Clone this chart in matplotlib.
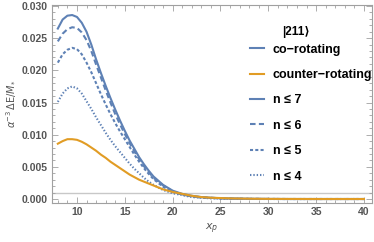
import matplotlib
matplotlib.use("Agg")
import matplotlib.pyplot as plt
from matplotlib.ticker import MultipleLocator, FormatStrFormatter
from matplotlib.lines import Line2D

plt.rcParams['font.family'] = ['Liberation Sans', 'DejaVu Sans']
plt.rcParams['lines.scale_dashes'] = False

x_p = [8, 8.5, 9, 9.5, 10, 10.5, 11, 11.5, 12, 12.5, 13, 13.5, 14, 14.5, 15, 15.5,
       16, 16.5, 17, 17.5, 18, 19, 20, 21, 22, 23, 24, 25, 26, 28, 30, 32, 35, 38, 40]

co_rot = [0.0265, 0.0279, 0.0285, 0.0286, 0.0283, 0.0274, 0.0260, 0.0240, 0.0217, 0.0196,
          0.0176, 0.0157, 0.0139, 0.0122, 0.0106, 0.0091, 0.0078, 0.0065, 0.0054, 0.0044,
          0.0035, 0.0022, 0.0013, 0.0008, 0.0005, 0.0003, 0.0002, 0.00012, 0.00008, 0.00003,
          0.00001, 0.0, 0.0, 0.0, 0.0]

n6 = [0.0245, 0.0257, 0.0264, 0.0267, 0.0266, 0.0259, 0.0247, 0.0230, 0.0209, 0.0189,
      0.0169, 0.0150, 0.0132, 0.0116, 0.0101, 0.0087, 0.0074, 0.0062, 0.0051, 0.0042,
      0.0033, 0.0021, 0.0012, 0.0007, 0.0004, 0.0003, 0.0002, 0.0001, 0.00007, 0.00003,
      0.00001, 0.0, 0.0, 0.0, 0.0]

n5 = [0.0212, 0.0225, 0.0232, 0.0235, 0.0233, 0.0225, 0.0212, 0.0197, 0.0180, 0.0163,
      0.0147, 0.0132, 0.0118, 0.0105, 0.0093, 0.0081, 0.0069, 0.0058, 0.0048, 0.0039,
      0.0031, 0.0019, 0.0011, 0.0007, 0.0004, 0.0002, 0.00015, 0.0001, 0.00006, 0.00002,
      0.00001, 0.0, 0.0, 0.0, 0.0]

n4 = [0.0151, 0.0164, 0.0172, 0.0175, 0.0172, 0.0164, 0.0152, 0.0140, 0.0127, 0.0115,
      0.0103, 0.0092, 0.0082, 0.0073, 0.0064, 0.0055, 0.0047, 0.0040, 0.0033, 0.0027,
      0.0022, 0.0014, 0.0009, 0.0006, 0.0003, 0.0002, 0.0001, 0.00007, 0.00004, 0.00001,
      0.0, 0.0, 0.0, 0.0, 0.0]

counter_rot = [0.0086, 0.0090, 0.0093, 0.0093, 0.0092, 0.0089, 0.0085, 0.0080, 0.0075, 0.0069,
               0.0064, 0.0058, 0.0053, 0.0048, 0.0043, 0.0038, 0.0034, 0.0030, 0.0027, 0.0024,
               0.0021, 0.0015, 0.0011, 0.0008, 0.0005, 0.0003, 0.0002, 0.00015, 0.0001, 0.00005,
               0.00002, 0.00001, 0.0, 0.0, 0.0]

ref_level = 0.001

legend_title = "|211\u27e9"
labels = ["co\u2212rotating", "counter\u2212rotating", "n \u2264 7", "n \u2264 6", "n \u2264 5", "n \u2264 4"]

blue = "#5E81B5"
orange = "#E19C24"
gray_txt = "#555555"
frame_c = "#a0a0a0"

fig = plt.figure(figsize=(3.74, 2.42), dpi=100)
ax = fig.add_axes([52/374, 1-203/242, 320/374, 198/242])

lw = 1.5
ax.axhline(ref_level, color="#c8c8c8", lw=1.0, zorder=1)
ax.plot(x_p, co_rot, color=blue, lw=lw, zorder=3)
ax.plot(x_p, n6, color=blue, lw=lw, linestyle=(0, (4.0, 2.4)), zorder=3)
ax.plot(x_p, n5, color=blue, lw=lw, linestyle=(0, (2.2, 1.6)), zorder=3)
ax.plot(x_p, n4, color=blue, lw=lw, linestyle=(0, (1.0, 1.4)), zorder=3)
ax.plot(x_p, counter_rot, color=orange, lw=lw, zorder=4)

ax.set_xlim(7.39, 40.84)
ax.set_ylim(-0.00062, 0.03016)
ax.xaxis.set_major_locator(MultipleLocator(5))
ax.xaxis.set_minor_locator(MultipleLocator(1))
ax.yaxis.set_major_locator(MultipleLocator(0.005))
ax.yaxis.set_minor_locator(MultipleLocator(0.001))
ax.yaxis.set_major_formatter(FormatStrFormatter('%.3f'))
ax.set_xticks([10, 15, 20, 25, 30, 35, 40])

for s in ax.spines.values():
    s.set_color(frame_c)
    s.set_linewidth(0.8)
ax.tick_params(which='both', direction='in', top=True, right=True, color=frame_c, width=0.6)
ax.tick_params(which='major', length=4)
ax.tick_params(which='minor', length=2)
ax.tick_params(axis='both', labelsize=7.5, labelcolor=gray_txt, pad=3)
for t in ax.get_xticklabels() + ax.get_yticklabels():
    t.set_fontweight('bold')

ax.set_xlabel(r"$x_p$", fontsize=8, color=gray_txt, labelpad=3)
ax.set_ylabel(r"$\alpha^{-3}\,\Delta\mathrm{E}/M_{*}$", fontsize=7, color=gray_txt, labelpad=3)

handles = [
    Line2D([], [], color=blue, lw=lw),
    Line2D([], [], color=orange, lw=lw),
    Line2D([], [], color=blue, lw=lw),
    Line2D([], [], color=blue, lw=lw, linestyle=(0, (4.0, 2.4))),
    Line2D([], [], color=blue, lw=lw, linestyle=(0, (2.2, 1.6))),
    Line2D([], [], color=blue, lw=lw, linestyle=(0, (1.0, 1.4))),
]
ax.text(0.7625, 0.866, legend_title, transform=ax.transAxes, ha='center', va='center',
        fontsize=8.5, fontweight='bold', color='black')
leg = ax.legend(handles, labels, loc='upper left',
                bbox_to_anchor=(0.6, 0.836), frameon=False,
                prop={'weight': 'bold', 'size': 9},
                handlelength=1.1, handletextpad=0.7, labelspacing=1.07, borderpad=0)

fig.savefig("out.png", dpi=100)
